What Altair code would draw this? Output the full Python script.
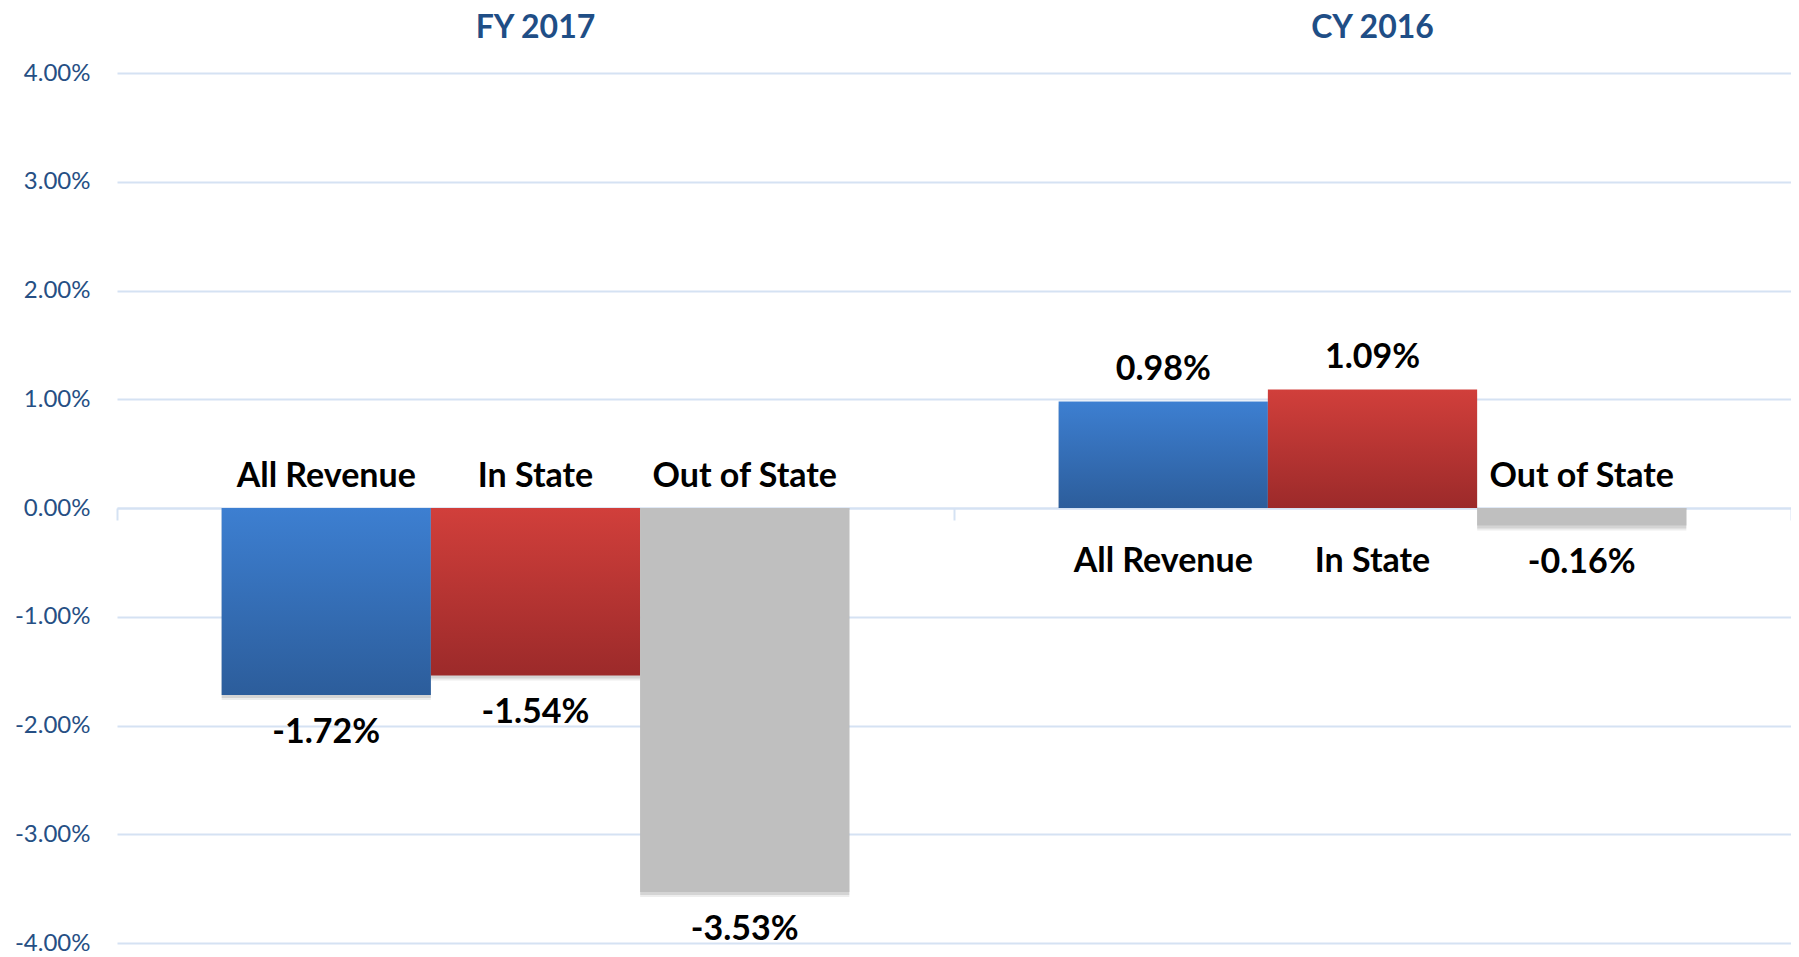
import altair as alt
import pandas as pd

periods = ["FY 2017", "CY 2016"]
categories = ["All Revenue", "In State", "Out of State"]
fy2017_values = [-1.72, -1.54, -3.53]
cy2016_values = [0.98, 1.09, -0.16]
y_ticks = [4, 3, 2, 1, 0, -1, -2, -3, -4]

rows = []
for p, vals in zip(periods, [fy2017_values, cy2016_values]):
    for c, v in zip(categories, vals):
        rows.append({"period": p, "category": c, "value": v,
                     "label": f"{v:.2f}%", "zero": 0.0})
df = pd.DataFrame(rows)

FONT = "Lato"
GRID = "#D5E2F3"
AXIS_BLUE = "#264F84"
TITLE_BLUE = "#1F4E86"
LABEL_SIZE = 34
W, H = 1674, 870

x_scale = alt.Scale(domain=periods, paddingInner=0, paddingOuter=0)
xo = alt.XOffset("category:N", sort=categories,
                 scale=alt.Scale(domain=categories, paddingInner=0, paddingOuter=0.5))
y_scale = alt.Scale(domain=[-4, 4], nice=False, zero=False)
y_axis = alt.Axis(values=y_ticks, title=None, domain=False, ticks=False, tickSize=0,
                  labelFont=FONT, labelFontSize=24, labelColor=AXIS_BLUE,
                  labelPadding=27, grid=True, gridColor=GRID, gridWidth=2, orient="left",
                  labelExpr="replace(format(datum.value, '.2f'), '\u2212', '-') + '%'")

x_none = alt.X("period:N", scale=x_scale, axis=None)
y_val = alt.Y("value:Q", scale=y_scale, axis=y_axis)
y_zero = alt.Y("zero:Q", scale=y_scale, axis=y_axis)

base = alt.Chart(df)

# soft shadow; carries the top axis used for the panel titles and the zero-line axis
shadow1 = base.mark_bar(color="black", opacity=0.10, xOffset=2, yOffset=3).encode(
    x=alt.X("period:N", scale=x_scale,
            axis=alt.Axis(orient="top", title=None, domain=False, ticks=False, tickSize=0,
                          grid=False, labelFont=FONT, labelFontSize=32, labelFontWeight="bold",
                          labelColor=TITLE_BLUE, labelPadding=36, labelBaseline="alphabetic",
                          labelAngle=0)),
    xOffset=xo, y=y_val, y2=alt.Y2("zero:Q"))
shadow2 = base.mark_bar(color="black", opacity=0.07, xOffset=4, yOffset=5).encode(
    x=alt.X("period:N", scale=x_scale,
            axis=alt.Axis(orient="bottom", offset=-H / 2, labels=False, title=None,
                          domainColor=GRID, domainWidth=2, tickColor=GRID, tickWidth=2,
                          tickSize=12, tickBand="extent", grid=False)),
    xOffset=xo, y=y_val, y2=alt.Y2("zero:Q"))

def grad(top, bottom):
    return alt.Gradient(gradient="linear",
                        stops=[alt.GradientStop(color=top, offset=0),
                               alt.GradientStop(color=bottom, offset=1)],
                        x1=0, x2=0, y1=0, y2=1)

blue = base.transform_filter(alt.datum.category == "All Revenue").mark_bar(
    color=grad("#3D7FD1", "#2C5D9B")).encode(
    x=x_none, xOffset=xo, y=y_val, y2=alt.Y2("zero:Q"))
red = base.transform_filter(alt.datum.category == "In State").mark_bar(
    color=grad("#D13F3B", "#9C2A2A")).encode(
    x=x_none, xOffset=xo, y=y_val, y2=alt.Y2("zero:Q"))
gray = base.transform_filter(alt.datum.category == "Out of State").mark_bar(
    color="#BFBFBF").encode(
    x=x_none, xOffset=xo, y=y_val, y2=alt.Y2("zero:Q"))

def txt(dy):
    return dict(font=FONT, fontSize=LABEL_SIZE, fontWeight="bold", color="#000000",
                align="center", baseline="middle", dy=dy)

val_pos = base.transform_filter(alt.datum.value >= 0).mark_text(**txt(-31)).encode(
    x=x_none, xOffset=xo, y=y_val, text="label:N")
val_neg = base.transform_filter(alt.datum.value < 0).mark_text(**txt(38)).encode(
    x=x_none, xOffset=xo, y=y_val, text="label:N")
cat_above = base.transform_filter(alt.datum.value < 0).mark_text(**txt(-31)).encode(
    x=x_none, xOffset=xo, y=y_zero, text="category:N")
cat_below = base.transform_filter(alt.datum.value >= 0).mark_text(**txt(54)).encode(
    x=x_none, xOffset=xo, y=y_zero, text="category:N")

chart = alt.layer(
    shadow1, shadow2, blue, red, gray, val_pos, val_neg, cat_above, cat_below
).resolve_axis(x="independent", y="shared").properties(
    width=W, height=H,
    autosize=alt.AutoSizeParams(type="none"),
    padding={"left": 109, "top": 65, "right": 0, "bottom": 12},
    background="white",
).configure_view(stroke=None)

chart.save("out.html", embed_options={"renderer": "svg", "actions": False})
